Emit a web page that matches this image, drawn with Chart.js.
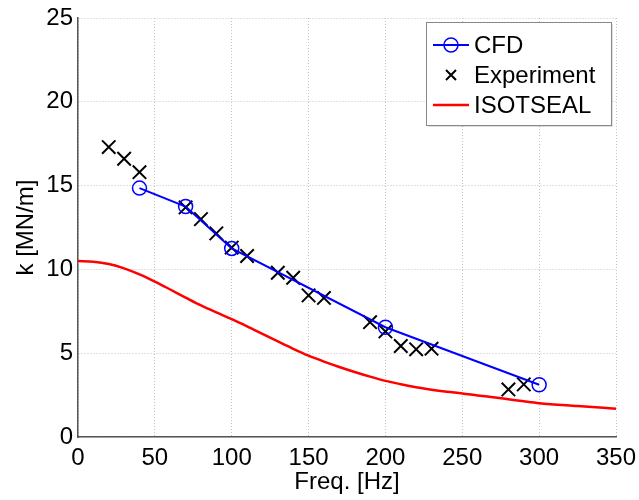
<!DOCTYPE html>
<html>
<head>
<meta charset="utf-8">
<script src="https://cdn.jsdelivr.net/npm/chart.js@4"></script>
<style>
  html, body { margin: 0; padding: 0; background: #fff; }
  #wrap { width: 639px; height: 500px; }
</style>
</head>
<body>
<div id="wrap"><canvas id="chart" width="639" height="500"></canvas></div>
<script>
// CFD prediction
const cfdFreq = [40, 70, 100, 200, 300];
const cfdK = [14.85, 13.75, 11.25, 6.55, 3.12];

// measured points
const expFreq = [20, 30, 40, 70, 80, 90, 100, 110, 130, 140, 150, 160, 190, 200, 210, 220, 230, 280, 290];
const expK = [17.3, 16.6, 15.8, 13.7, 13.0, 12.15, 11.3, 10.8, 9.8, 9.5, 8.45, 8.3, 6.85, 6.3, 5.43, 5.23, 5.27, 2.84, 3.14];

// ISOTSEAL curve
const isoFreq = [0, 10, 20, 30, 40, 50, 60, 70, 80, 90, 100, 110, 120, 130, 140, 150, 160, 170, 180, 190, 200, 210, 220, 230, 240, 250, 260, 270, 280, 290, 300, 325, 350];
const isoK = [10.5, 10.46, 10.32, 10.06, 9.7, 9.27, 8.8, 8.32, 7.85, 7.43, 7.03, 6.6, 6.15, 5.7, 5.26, 4.85, 4.5, 4.18, 3.88, 3.6, 3.35, 3.15, 2.97, 2.82, 2.7, 2.6, 2.48, 2.37, 2.25, 2.13, 2.02, 1.85, 1.69];

const xTicks = [0, 50, 100, 150, 200, 250, 300, 350];
const yTicks = [0, 5, 10, 15, 20, 25];

const FONT = "'Liberation Sans', Arial, Helvetica, sans-serif";
const FONT_SIZE = 24;

const toPoints = (xs, ys) => xs.map((x, i) => ({ x, y: ys[i] }));

// legend box drawn inside the plot, top right like the MATLAB one
const boxLegend = {
  id: "boxLegend",
  afterDraw(chart) {
    const ctx = chart.ctx;
    const left = 426, top = 22, w = 185, h = 103;
    ctx.save();
    ctx.fillStyle = "rgba(0,0,0,0.12)";
    ctx.fillRect(left + 2, top + 2, w, h);
    ctx.fillStyle = "#fff";
    ctx.fillRect(left, top, w, h);
    ctx.strokeStyle = "#888";
    ctx.lineWidth = 1;
    ctx.strokeRect(left + 0.5, top + 0.5, w, h);

    const rows = [45, 75, 105];
    const x0 = 433, x1 = 469, xm = (x0 + x1) / 2;
    // CFD
    ctx.strokeStyle = "#0000ff";
    ctx.lineWidth = 2;
    ctx.beginPath();
    ctx.moveTo(x0, rows[0]);
    ctx.lineTo(x1, rows[0]);
    ctx.stroke();
    ctx.lineWidth = 1.5;
    ctx.beginPath();
    ctx.arc(xm, rows[0], 7, 0, Math.PI * 2);
    ctx.stroke();
    // Experiment
    ctx.strokeStyle = "#000";
    ctx.lineWidth = 2;
    ctx.beginPath();
    ctx.moveTo(xm - 5, rows[1] - 5);
    ctx.lineTo(xm + 5, rows[1] + 5);
    ctx.moveTo(xm + 5, rows[1] - 5);
    ctx.lineTo(xm - 5, rows[1] + 5);
    ctx.stroke();
    // ISOTSEAL
    ctx.strokeStyle = "#ff0000";
    ctx.lineWidth = 2.5;
    ctx.beginPath();
    ctx.moveTo(x0, rows[2]);
    ctx.lineTo(x1, rows[2]);
    ctx.stroke();

    ctx.fillStyle = "#000";
    ctx.font = FONT_SIZE + "px " + FONT;
    ctx.textBaseline = "middle";
    ctx.textAlign = "left";
    ["CFD", "Experiment", "ISOTSEAL"].forEach((t, i) => ctx.fillText(t, 474, rows[i] + 1));
    ctx.restore();
  },
};

new Chart(document.getElementById("chart"), {
  type: "scatter",
  data: {
    datasets: [
      {
        label: "ISOTSEAL",
        data: toPoints(isoFreq, isoK),
        showLine: true,
        borderColor: "#ff0000",
        borderWidth: 2.5,
        pointRadius: 0,
        cubicInterpolationMode: "monotone",
        order: 3,
      },
      {
        label: "Experiment",
        data: toPoints(expFreq, expK),
        showLine: false,
        pointStyle: "crossRot",
        pointRadius: 9.5,
        borderColor: "#000",
        backgroundColor: "#000",
        pointBorderWidth: 2,
        order: 2,
      },
      {
        label: "CFD",
        data: toPoints(cfdFreq, cfdK),
        showLine: true,
        borderColor: "#0000ff",
        borderWidth: 2,
        pointStyle: "circle",
        pointRadius: 7,
        pointBorderWidth: 1.5,
        pointBackgroundColor: "rgba(0,0,0,0)",
        order: 1,
      },
    ],
  },
  options: {
    responsive: false,
    animation: false,
    layout: { padding: { left: 0, right: 23, top: 18, bottom: 0 } },
    plugins: {
      legend: { display: false },
      tooltip: { enabled: false },
    },
    scales: {
      x: {
        type: "linear",
        min: 0,
        max: 350,
        afterFit: (s) => {
          s.height = 63;
          s.paddingLeft = 0;
          s.paddingRight = 0;
        },
        afterBuildTicks: (s) => { s.ticks = xTicks.map((v) => ({ value: v })); },
        ticks: { color: "#000", font: { family: FONT, size: FONT_SIZE }, padding: 7, maxRotation: 0 },
        grid: { color: "#c4c4c4", lineWidth: 1, drawTicks: false },
        border: { display: true, color: "#555", width: 1.5, dash: [1, 2] },
        title: {
          display: true,
          text: "Freq. [Hz]",
          color: "#000",
          font: { family: FONT, size: FONT_SIZE },
          padding: { top: 0, bottom: 3 },
        },
      },
      y: {
        type: "linear",
        min: 0,
        max: 25,
        afterFit: (s) => {
          s.width = 78;
          s.paddingTop = 0;
          s.paddingBottom = 0;
        },
        afterBuildTicks: (s) => { s.ticks = yTicks.map((v) => ({ value: v })); },
        ticks: { color: "#000", font: { family: FONT, size: FONT_SIZE }, padding: 5 },
        grid: { color: "#c4c4c4", lineWidth: 1, drawTicks: false },
        border: { display: true, color: "#555", width: 1.5, dash: [1, 2] },
        title: {
          display: true,
          text: "k [MN/m]",
          color: "#000",
          font: { family: FONT, size: FONT_SIZE },
          padding: { top: 12, bottom: 0 },
        },
      },
    },
  },
  plugins: [boxLegend],
});
</script>
</body>
</html>
